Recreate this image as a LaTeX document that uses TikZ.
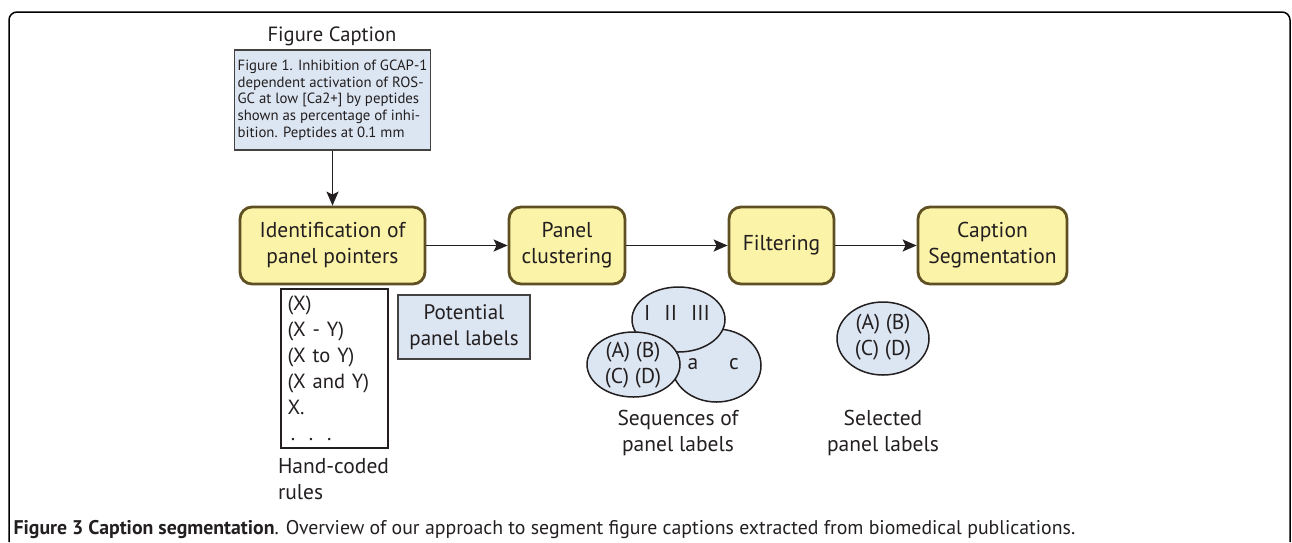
\documentclass[tikz,border=0pt]{standalone}
\usepackage{fontspec}
\setmainfont{PT Sans}
\usetikzlibrary{arrows.meta,shapes.geometric}

\definecolor{inkgray}{HTML}{231F20}
\definecolor{stepfill}{HTML}{FBF3A8}
\definecolor{stepline}{HTML}{5E5022}
\definecolor{labelblue}{HTML}{DCE6F2}

\tikzset{
  stepbox/.style={draw=stepline, fill=stepfill, line width=2.8pt, rounded corners=12pt,
    minimum height=77pt, align=center, text=inkgray, font=\fontsize{21.5}{26}\selectfont},
  bluebox/.style={draw=inkgray!85, fill=labelblue, line width=1.5pt, text=inkgray},
  blob/.style={ellipse, draw=inkgray, fill=labelblue, line width=1.5pt, inner sep=0pt},
  flow/.style={draw=inkgray, line width=1.5pt, -{Stealth[length=14pt,width=12pt,inset=3pt]}},
  note/.style={text=inkgray, align=center, font=\fontsize{21.5}{26}\selectfont},
}

\begin{document}
\begin{tikzpicture}[x=1pt, y=-1pt]
        \useasboundingbox (0,0) rectangle (1292,542);

        % frame
        \draw[line width=1.5pt, rounded corners=8pt] (9,542) -- (9,12) -- (1290,12) -- (1290,542);

        % input caption
        \node[note, font=\fontsize{20.6}{26}\selectfont] (captitle) at (332,36) {Figure Caption};
        \node[bluebox, minimum width=193pt, minimum height=100pt, align=left,
              font=\fontsize{14.8}{16.7}\selectfont] (capbox) at (332.5,100)
              {Figure 1. Inhibition of GCAP-1\\dependent activation of ROS-\\GC at low [Ca2+] by peptides\\shown as percentage of inhi-\\bition. Peptides at 0.1 mm};

        % pipeline steps
        \node[stepbox, minimum width=185pt] (ident) at (332.5,245.5) {Identification of\\panel pointers};
        \node[stepbox, minimum width=116pt] (clust) at (567,245.5) {Panel\\clustering};
        \node[stepbox, minimum width=105pt] (filt) at (781.5,245.5) {Filtering};
        \node[stepbox, minimum width=149pt] (seg) at (992.5,245.5) {Caption\\Segmentation};

        \draw[flow] (capbox) -- (ident);
        \draw[flow] (ident) -- (clust);
        \draw[flow] (clust) -- (filt);
        \draw[flow] (filt) -- (seg);

        % rules and potential labels
        \node[draw=inkgray, line width=1.5pt, minimum width=107pt, minimum height=159pt,
              text width=94pt, inner sep=0pt, align=left, text=inkgray,
              font=\fontsize{20.5}{26}\selectfont] (rules) at (334.5,368.5)
              {(X)\\(X - Y)\\(X to Y)\\(X and Y)\\X.\\\,.\ \ .\ \ .};
        \node[note, anchor=north west, align=left] (rulesname) at (274.5,455) {Hand-coded\\rules};
        \node[bluebox, minimum width=132pt, minimum height=64pt, align=center,
              font=\fontsize{21}{26}\selectfont] (potential) at (464,327) {Potential\\panel labels};

        % sequences of panel labels
        \node[blob, minimum width=89pt, minimum height=73pt] (seqc) at (716.5,365.5) {};
        \node[blob, minimum width=93pt, minimum height=65pt] (seqb) at (678.5,319.5) {};
        \node[blob, minimum width=93pt, minimum height=65pt] (seqa) at (633.5,364.5) {};
        \node[note] (roman) at (677,313) {I\hspace{14pt}II\hspace{14pt}III};
        \node[note] (letters) at (633,365) {(A) (B)\\(C) (D)};
        \node[note] (smalla) at (693,364) {a};
        \node[note] (smallc) at (734,364) {c};
        \node[note] (seqname) at (678,433) {Sequences of\\panel labels};

        % selected panel labels
        \node[blob, minimum width=92pt, minimum height=73pt] (sel) at (883,338.5) {};
        \node[note] (selletters) at (883,337) {(A) (B)\\(C) (D)};
        \node[note] (selname) at (883,433) {Selected\\panel labels};

        % caption
        \node[anchor=west, text=inkgray, font=\fontsize{19.8}{22}\selectfont] (figcap) at (10,530)
              {\textbf{Figure 3 Caption segmentation}. Overview of our approach to segment figure captions extracted from biomedical publications.};
\end{tikzpicture}
\end{document}
